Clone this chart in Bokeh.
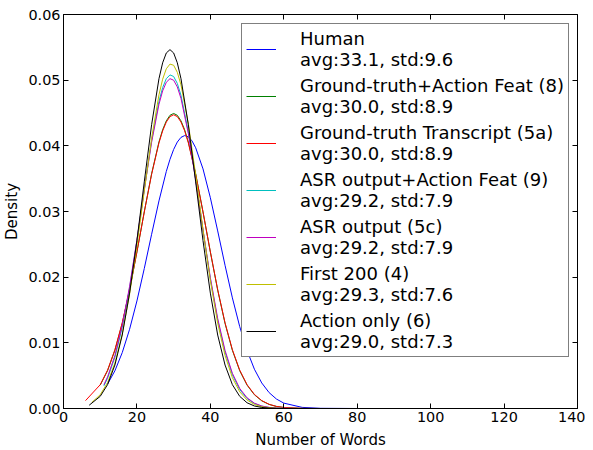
from bokeh.plotting import figure
from bokeh.models import (Range1d, LinearAxis, Legend, LegendItem, FixedTicker,
                          PrintfTickFormatter, CustomJSTickFormatter)
from bokeh.embed import file_html
from bokeh.resources import INLINE

# ---- data ----
human_x = [12, 14, 16, 18, 20, 22, 24, 26, 28, 29, 30, 31, 32, 33, 34, 35, 36, 38, 40, 42, 44, 46, 48, 50, 52, 54, 56, 58, 60, 65, 70, 80, 95]
human_y = [0.00371, 0.00574, 0.00851, 0.01206, 0.01638, 0.02131, 0.02653, 0.03161, 0.03610, 0.03794, 0.03945, 0.04058, 0.04129, 0.04156, 0.04138, 0.04075, 0.03971, 0.03649, 0.03210, 0.02704, 0.02181, 0.01685, 0.01247, 0.00883, 0.00598, 0.00389, 0.00242, 0.00144, 0.00082, 0.00017, 0.00003, 0.0, 0.0]

gtaf_x = [10, 12, 14, 16, 18, 20, 22, 24, 26, 27, 28, 29, 30, 31, 32, 33, 34, 36, 38, 40, 42, 44, 46, 48, 50, 52, 54, 56, 58, 60, 65, 70, 80, 122]
gtaf_y = [0.00356, 0.00575, 0.00886, 0.01296, 0.01803, 0.02384, 0.02994, 0.03576, 0.04059, 0.04244, 0.04380, 0.04465, 0.04493, 0.04465, 0.04380, 0.04244, 0.04059, 0.03576, 0.02994, 0.02384, 0.01803, 0.01296, 0.00886, 0.00575, 0.00356, 0.00209, 0.00117, 0.00062, 0.00031, 0.00015, 0.00002, 0.0, 0.0, 0.0]

gt_x = [6, 10, 12, 14, 16, 18, 20, 22, 24, 26, 27, 28, 29, 30, 31, 32, 33, 34, 36, 38, 40, 42, 44, 46, 48, 50, 52, 54, 56, 58, 60, 65, 70, 80, 104]
gt_y = [0.00120, 0.00362, 0.00584, 0.00895, 0.01305, 0.01809, 0.02386, 0.02992, 0.03567, 0.04045, 0.04227, 0.04362, 0.04445, 0.04473, 0.04445, 0.04362, 0.04227, 0.04045, 0.03567, 0.02992, 0.02386, 0.01809, 0.01305, 0.00895, 0.00584, 0.00362, 0.00214, 0.00120, 0.00064, 0.00032, 0.00016, 0.00002, 0.0, 0.0, 0.0]

asraf_x = [11, 12, 14, 16, 18, 20, 22, 24, 26, 27, 28, 29, 30, 31, 32, 34, 36, 38, 40, 42, 44, 46, 48, 50, 52, 54, 56, 58, 60, 65, 90]
asraf_y = [0.00345, 0.00460, 0.00780, 0.01236, 0.01836, 0.02557, 0.03336, 0.04080, 0.04677, 0.04886, 0.05023, 0.05080, 0.05056, 0.04950, 0.04769, 0.04215, 0.03492, 0.02711, 0.01972, 0.01344, 0.00859, 0.00514, 0.00288, 0.00152, 0.00075, 0.00035, 0.00015, 0.00006, 0.00002, 0.0, 0.0]

asr_x = [11, 12, 14, 16, 18, 20, 22, 24, 26, 27, 28, 29, 30, 31, 32, 34, 36, 38, 40, 42, 44, 46, 48, 50, 52, 54, 56, 58, 60, 65, 88]
asr_y = [0.00363, 0.00481, 0.00805, 0.01263, 0.01859, 0.02569, 0.03332, 0.04055, 0.04633, 0.04836, 0.04968, 0.05023, 0.04999, 0.04897, 0.04722, 0.04186, 0.03482, 0.02719, 0.01993, 0.01371, 0.00885, 0.00536, 0.00305, 0.00163, 0.00081, 0.00038, 0.00017, 0.00007, 0.00003, 0.0, 0.0]

first_x = [7.7, 10, 12, 14, 16, 18, 20, 22, 24, 26, 27, 28, 29, 30, 31, 32, 34, 36, 38, 40, 42, 44, 46, 48, 50, 52, 54, 56, 58, 60, 65, 85]
first_y = [0.00092, 0.00209, 0.00394, 0.00692, 0.01135, 0.01739, 0.02483, 0.03310, 0.04116, 0.04777, 0.05014, 0.05173, 0.05245, 0.05227, 0.05119, 0.04928, 0.04336, 0.03559, 0.02726, 0.01948, 0.01300, 0.00808, 0.00469, 0.00254, 0.00129, 0.00061, 0.00027, 0.00011, 0.00004, 0.00001, 0.0, 0.0]

action_x = [7, 10, 12, 14, 16, 18, 20, 22, 24, 26, 27, 28, 29, 30, 31, 32, 34, 36, 38, 40, 42, 44, 46, 48, 50, 52, 54, 56, 58, 60, 80]
action_y = [0.00050, 0.00185, 0.00363, 0.00662, 0.01119, 0.01757, 0.02556, 0.03451, 0.04322, 0.05022, 0.05264, 0.05414, 0.05465, 0.05414, 0.05264, 0.05022, 0.04322, 0.03451, 0.02556, 0.01757, 0.01119, 0.00662, 0.00363, 0.00185, 0.00087, 0.00038, 0.00016, 0.00006, 0.00002, 0.0, 0.0]

labels = [
    "Human\navg:33.1, std:9.6",
    "Ground-truth+Action Feat (8)\navg:30.0, std:8.9",
    "Ground-truth Transcript (5a)\navg:30.0, std:8.9",
    "ASR output+Action Feat (9)\navg:29.2, std:7.9",
    "ASR output (5c)\navg:29.2, std:7.9",
    "First 200 (4)\navg:29.3, std:7.6",
    "Action only (6)\navg:29.0, std:7.3",
]
colors = ["#0000ff", "#008000", "#ff0000", "#00bfbf", "#bf00bf", "#bfbf00", "#000000"]
xs = [human_x, gtaf_x, gt_x, asraf_x, asr_x, first_x, action_x]
ys = [human_y, gtaf_y, gt_y, asraf_y, asr_y, first_y, action_y]

x_ticks = [0, 20, 40, 60, 80, 100, 120, 140]
y_ticks = [0.0, 0.01, 0.02, 0.03, 0.04, 0.05, 0.06]

FONT = "DejaVu Sans"

p = figure(width=585, height=452, output_backend="svg", toolbar_location=None,
           x_range=Range1d(0, 140), y_range=Range1d(0, 0.06),
           min_border_left=57, min_border_right=8, min_border_top=14, min_border_bottom=44)
p.grid.visible = False
p.outline_line_color = "black"
p.outline_line_width = 1
p.background_fill_color = "white"
p.border_fill_color = "white"

for ax in (p.xaxis[0], p.yaxis[0]):
    ax.major_tick_in = 5
    ax.major_tick_out = 0
    ax.minor_tick_line_color = None
    ax.major_label_text_font = FONT
    ax.major_label_text_font_size = "14.4px"
    ax.major_label_text_color = "black"
    ax.axis_label_text_font = FONT
    ax.axis_label_text_font_size = "15px"
    ax.axis_label_text_font_style = "normal"
    ax.axis_label_text_color = "black"
    ax.axis_line_color = "black"
    ax.major_tick_line_color = "black"

p.xaxis[0].ticker = FixedTicker(ticks=x_ticks)
p.yaxis[0].ticker = FixedTicker(ticks=y_ticks)
p.yaxis[0].formatter = PrintfTickFormatter(format="%.2f")
p.xaxis[0].axis_label = "Number of Words"
p.yaxis[0].axis_label = "Density"
p.xaxis[0].major_label_standoff = 3
p.yaxis[0].major_label_standoff = 3
p.xaxis[0].axis_label_standoff = 6
p.yaxis[0].axis_label_standoff = 4

blank = CustomJSTickFormatter(code="return '';")
top = LinearAxis(ticker=FixedTicker(ticks=x_ticks), formatter=blank, major_tick_in=5, major_tick_out=0,
                 minor_tick_line_color=None, major_label_standoff=0, axis_line_color=None,
                 major_label_text_font_size="0px", major_tick_line_color="black")
right = LinearAxis(ticker=FixedTicker(ticks=y_ticks), formatter=blank, major_tick_in=5, major_tick_out=0,
                   minor_tick_line_color=None, major_label_standoff=0, axis_line_color=None,
                   major_label_text_font_size="0px", major_tick_line_color="black")
p.add_layout(top, "above")
p.add_layout(right, "right")

items = []
for lab, col, x, y in zip(labels, colors, xs, ys):
    r = p.line(x, y, line_color=col, line_width=1)
    items.append(LegendItem(label=lab, renderers=[r]))

legend = Legend(items=items, location=(178, 51))
legend.label_text_font = FONT
legend.label_text_font_size = "18px"
legend.label_text_line_height = 1.2
legend.label_text_color = "black"
legend.glyph_width = 30
legend.label_standoff = 24
legend.padding = 4
legend.spacing = 5
legend.margin = 0
legend.border_line_color = "black"
legend.border_line_width = 1
legend.background_fill_alpha = 1.0
p.add_layout(legend)

open("out.html", "w").write(file_html(p, INLINE))
